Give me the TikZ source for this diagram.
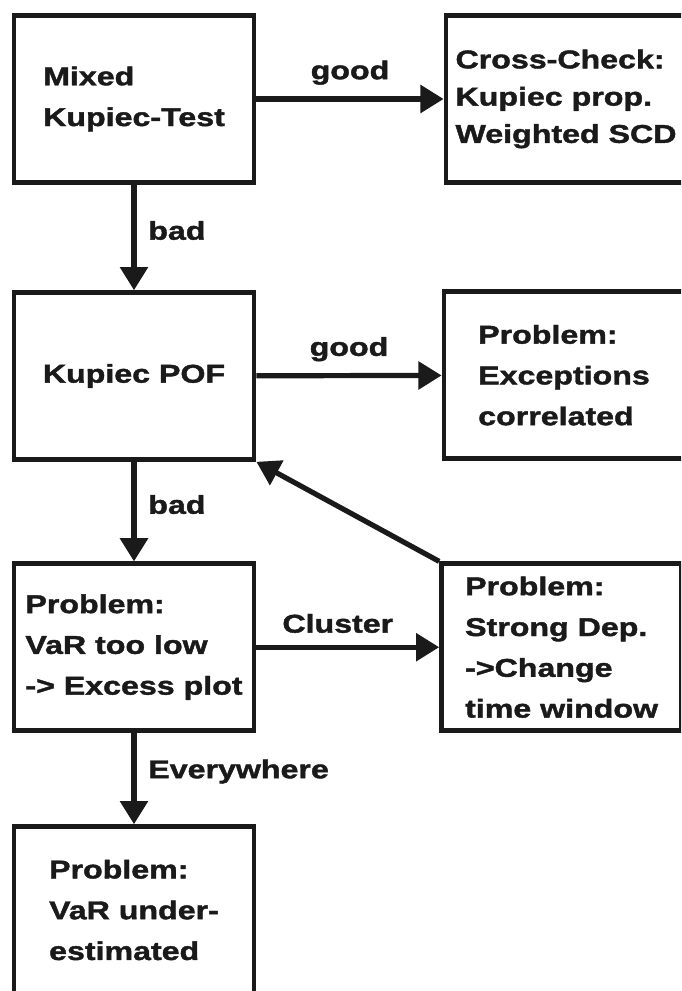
\documentclass[tikz,border=0pt]{standalone}
\usepackage{fontspec}
\setmainfont{Liberation Sans}[FakeStretch=1.25, BoldFeatures={FakeBold=1.6}]
\usetikzlibrary{arrows.meta}
\definecolor{ink}{RGB}{26,26,26}
\newcommand{\boxfont}{\fontsize{18.3pt}{29pt}\selectfont\bfseries}

\begin{document}
\begin{tikzpicture}[
		box/.style={draw=ink, line width=0.12cm, rectangle, align=left, inner sep=2pt, minimum width=6.0cm, minimum height=4.17cm, text=ink, font=\boxfont},
		lbl/.style={text=ink, font=\boxfont},
		arrow/.style={draw=ink, line width=0.13cm, -{Triangle[length=0.58cm,width=0.68cm]}},
	]
	\useasboundingbox (0,0) rectangle (17.025,-24.775);
	\clip (0,0) rectangle (17.025,-24.775);

	\node[box] (mixed) at (3.35, -2.475)  {Mixed\\Kupiec-Test};
	\node[box, font=\fontsize{18.3pt}{26.5pt}\selectfont\bfseries] (cross) at (14.15, -2.475) {Cross-Check:\\Kupiec prop.\\Weighted SCD};
	\node[box] (pof)   at (3.35, -9.4)    {Kupiec POF};
	\node[box] (corr)  at (14.1, -9.38)   {Problem:\\Exceptions\\correlated};
	\node[box] (low)   at (3.35, -16.18)  {Problem:\\VaR too low\\-> Excess plot};
	\node[box] (dep)   at (14.04, -16.18) {Problem:\\Strong Dep.\\->Change\\time window};
	\node[box] (under) at (3.35, -22.75)  {Problem:\\VaR under-\\estimated};

	\draw[arrow] (mixed) -- node[lbl, above=5pt] {good} (cross);
	\draw[arrow] (mixed) -- node[lbl, right=5pt, yshift=5pt] {bad} (pof);
	\draw[arrow] (pof) -- node[lbl, above=5pt] {good} (corr);
	\draw[arrow] (pof) -- node[lbl, right=5pt, yshift=5pt] {bad} (low);
	\draw[arrow] (low) -- node[lbl, above=5pt, xshift=-0.25cm] {Cluster} (dep);
	\draw[arrow] (dep.north west) -- (pof.south east);
	\draw[arrow] (low) -- node[lbl, right=5pt, yshift=5pt] {Everywhere} (under);
\end{tikzpicture}
\end{document}
